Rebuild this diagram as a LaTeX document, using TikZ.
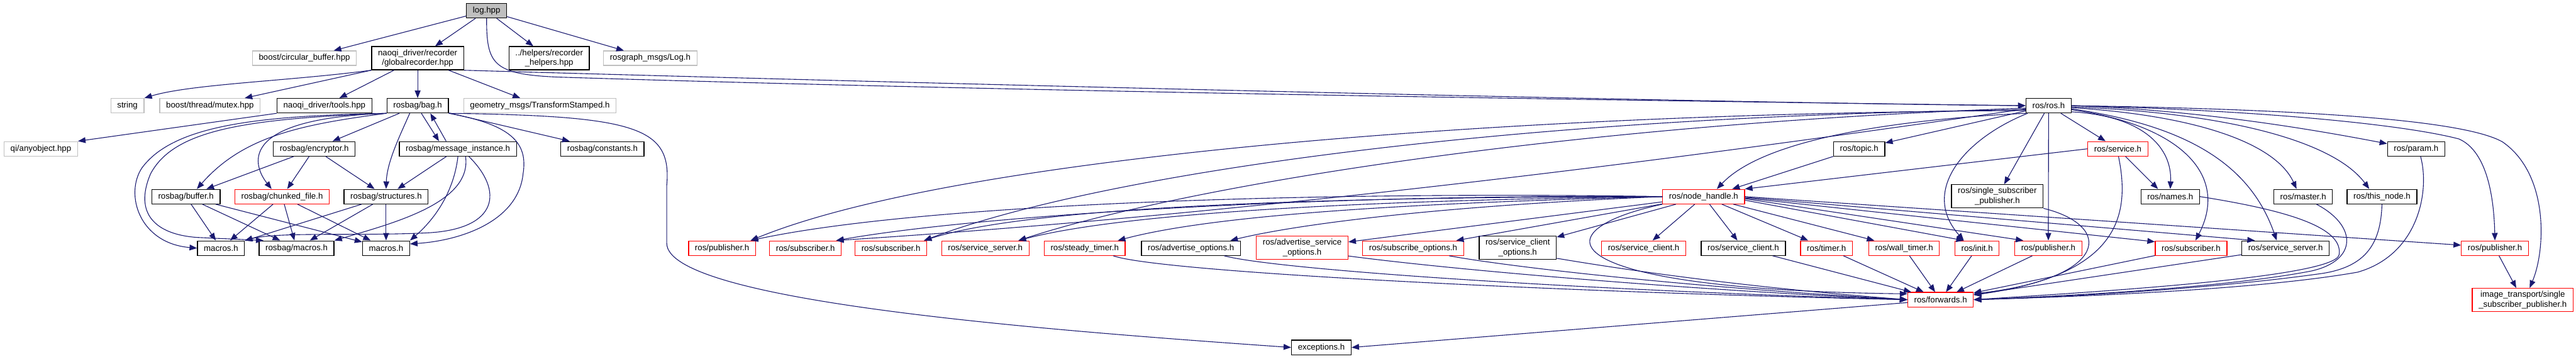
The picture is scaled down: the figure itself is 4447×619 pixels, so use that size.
\documentclass[tikz,border=0pt]{standalone}
\usepackage{fontspec}
\setmainfont{Liberation Sans}
\usetikzlibrary{arrows.meta}
\definecolor{edgeblue}{HTML}{191970}
\definecolor{extgray}{HTML}{BFBFBF}

\begin{document}
\begin{tikzpicture}[
    x=0.5pt, y=-0.5pt,
    >={Triangle[length=6.5pt, width=5pt]},
    hdr/.style={draw=black, line width=0.7pt, fill=white,
        font=\fontsize{7.2}{8.4}\selectfont, inner xsep=5.5pt, inner ysep=2.5pt,
        minimum height=12.5pt, align=center},
    redhdr/.style={hdr, draw=red},
    exthdr/.style={hdr, draw=extgray},
    mainhdr/.style={hdr, fill=extgray},
    dep/.style={->, draw=edgeblue, line width=0.6pt}
]
\useasboundingbox (0,0) rectangle (4447,619);

% ==================== NODES ====================
% Top
\node[mainhdr] (log) at (840,18.5) {log.hpp};

% Row 1
\node[exthdr] (circbuf) at (525.5,100.5) {boost/circular\_buffer.hpp};
\node[hdr] (recorder) at (721,100.5) {naoqi\_driver/recorder\\/globalrecorder.hpp};
\node[hdr] (helpers) at (948,100.5) {../helpers/recorder\\\_helpers.hpp};
\node[exthdr] (rosgraph) at (1122.5,100.5) {rosgraph\_msgs/Log.h};

% Row 2
\node[exthdr] (string) at (220,182.5) {string};
\node[exthdr] (mutex) at (362.5,182.5) {boost/thread/mutex.hpp};
\node[hdr] (tools) at (560,182.5) {naoqi\_driver/tools.hpp};
\node[hdr] (bag) at (721,182.5) {rosbag/bag.h};
\node[exthdr] (geom) at (932,182.5) {geometry\_msgs/TransformStamped.h};
\node[hdr] (ros) at (3536.5,182.5) {ros/ros.h};

% Row 3
\node[exthdr] (qi) at (70.5,257) {qi/anyobject.hpp};
\node[hdr] (encryptor) at (542.5,257) {rosbag/encryptor.h};
\node[hdr] (msginst) at (790.5,257) {rosbag/message\_instance.h};
\node[hdr] (constants) at (1040,257) {rosbag/constants.h};
\node[hdr] (topic) at (3209.5,257) {ros/topic.h};
\node[redhdr] (service) at (3656,257) {ros/service.h};
\node[hdr] (param) at (4171,257) {ros/param.h};

% Row 4
\node[hdr] (buffer) at (321,339.5) {rosbag/buffer.h};
\node[redhdr] (chunked) at (487,339.5) {rosbag/chunked\_file.h};
\node[hdr] (structures) at (666.5,339.5) {rosbag/structures.h};
\node[redhdr] (nh) at (2941,339.5) {ros/node\_handle.h};
\node[hdr] (ssp) at (3448,339) {ros/single\_subscriber\\\_publisher.h};
\node[hdr] (names) at (3746.5,339.5) {ros/names.h};
\node[hdr] (master) at (3976,339.5) {ros/master.h};
\node[hdr] (thisnode) at (4112,339.5) {ros/this\_node.h};

% Row 5
\node[hdr] (macrosA) at (381.5,428.5) {macros.h};
\node[hdr] (rbmacros) at (512,428.5) {rosbag/macros.h};
\node[hdr] (macrosB) at (666.5,428.5) {macros.h};
\node[redhdr] (pubA) at (1246.5,428.5) {ros/publisher.h};
\node[redhdr] (subA) at (1390.5,428.5) {ros/subscriber.h};
\node[redhdr] (subB) at (1538,428.5) {ros/subscriber.h};
\node[redhdr] (ssrvA) at (1701,428.5) {ros/service\_server.h};
\node[redhdr] (steady) at (1872.5,428.5) {ros/steady\_timer.h};
\node[hdr] (advopt) at (2056,428.5) {ros/advertise\_options.h};
\node[redhdr] (advsrv) at (2248,428) {ros/advertise\_service\\\_options.h};
\node[redhdr] (subopt) at (2439.5,428.5) {ros/subscribe\_options.h};
\node[hdr] (scopt) at (2620,428) {ros/service\_client\\\_options.h};
\node[redhdr] (sclientA) at (2837.5,428.5) {ros/service\_client.h};
\node[hdr] (sclientB) at (3009.5,428.5) {ros/service\_client.h};
\node[redhdr] (timer) at (3153,428.5) {ros/timer.h};
\node[redhdr] (walltimer) at (3287,428.5) {ros/wall\_timer.h};
\node[redhdr] (init) at (3413,428.5) {ros/init.h};
\node[redhdr] (pubB) at (3536,428.5) {ros/publisher.h};
\node[redhdr] (subC) at (3782.5,428.5) {ros/subscriber.h};
\node[hdr] (ssrvB) at (3945.5,428.5) {ros/service\_server.h};
\node[redhdr] (pubC) at (4307,428.5) {ros/publisher.h};

% Bottom rows
\node[redhdr] (forwards) at (3350,517.5) {ros/forwards.h};
\node[redhdr] (imgtr) at (4355,518) {image\_transport/single\\\_subscriber\_publisher.h};
\node[hdr] (exceptions) at (2281,600) {exceptions.h};

% ==================== LOG / RECORDER ====================
\draw[dep] (log) -- (circbuf);
\draw[dep] (log) -- (recorder);
\draw[dep] (log) -- (helpers);
\draw[dep] (log) -- (rosgraph);
\draw[dep] (log.south) .. controls (840,110) and (850,128) .. (960,133)
    .. controls (1800,160) and (3000,176) .. (ros.west);

\draw[dep] (recorder.south east) .. controls (1800,150) and (3000,178) .. (ros.west);
\draw[dep] (recorder.south west) .. controls (500,140) and (330,145) .. (string.north east);
\draw[dep] (recorder.south west) -- (mutex);
\draw[dep] (recorder) -- (tools);
\draw[dep] (recorder) -- (bag);
\draw[dep] (recorder) -- (geom);

\draw[dep] (tools.south west) -- (qi.north east);

% ==================== ROSBAG ====================
\draw[dep] (bag) -- (encryptor);
\draw[dep] (bag.-64) -- (msginst.158);
\draw[dep] (msginst.147) -- (bag.-31);
\draw[dep] (bag.-136) .. controls (690,235) and (668,280) .. (structures.north);
\draw[dep] (bag) -- (constants);
\draw[dep] (bag.south west) .. controls (520,215) and (420,235) .. (buffer.35);
\draw[dep] (bag.south west) .. controls (400,205) and (440,290) .. (chunked.144);
\draw[dep] (bag.south west) .. controls (450,200) and (300,215) .. (245,290)
    .. controls (215,335) and (240,420) .. (macrosA.west);
\draw[dep] (bag.south west) .. controls (420,205) and (300,225) .. (260,300)
    .. controls (230,370) and (270,405) .. (340,410) -- (rbmacros.167);
\draw[dep] (bag.south east) .. controls (880,215) and (912,245) .. (903,300)
    .. controls (895,380) and (800,415) .. (macrosB.10);
\draw[dep] (bag.south east) .. controls (1100,200) and (1160,220) .. (1151,320) -- (1151,420)
    .. controls (1151,520) and (1800,570) .. (exceptions.west);

% message instance
\draw[dep] (msginst) -- (structures);
\draw[dep] (msginst.south) .. controls (785,320) and (760,370) .. (macrosB.north east);
\draw[dep] (msginst.-45) .. controls (815,350) and (680,385) .. (rbmacros.north east);
\draw[dep] (msginst.-35) .. controls (870,330) and (860,395) .. (740,402)
    .. controls (620,408) and (480,400) .. (macrosA.north east);

% encryptor
\draw[dep] (encryptor) -- (buffer);
\draw[dep] (encryptor) -- (chunked);
\draw[dep] (encryptor) -- (structures);

% macros
\draw[dep] (buffer) -- (macrosA);
\draw[dep] (buffer) -- (rbmacros);
\draw[dep] (buffer) -- (macrosB);
\draw[dep] (chunked) -- (macrosA);
\draw[dep] (chunked) -- (rbmacros);
\draw[dep] (chunked) -- (macrosB);
\draw[dep] (structures) -- (macrosA);
\draw[dep] (structures) -- (rbmacros);
\draw[dep] (structures) -- (macrosB);

% ==================== ROS.H ====================
\draw[dep] (ros) -- (topic);
\draw[dep] (ros.south west) .. controls (3300,205) and (3050,235) .. (nh.30);
\draw[dep] (topic.south west) -- (nh.15);
\draw[dep] (service.west) -- (nh.north east);
\draw[dep] (ros) -- (ssp);
\draw[dep] (ros.-160) .. controls (3390,240) and (3315,330) .. (init.150);
\draw[dep] (ros) -- (pubB);
\draw[dep] (ros) -- (service);
\draw[dep] (ros.-15) .. controls (3700,200) and (3750,255) .. (names.north);
\draw[dep] (service) -- (names.148);
\draw[dep] (ros.-10) .. controls (3760,215) and (3850,300) .. (subC.60);
\draw[dep] (ros.-8) .. controls (3800,220) and (3890,300) .. (ssrvB.139);
\draw[dep] (ros.-5) .. controls (3800,200) and (3930,250) .. (master.131);
\draw[dep] (ros.-3) .. controls (3850,195) and (4030,245) .. (thisnode.149);
\draw[dep] (ros.east) .. controls (3800,190) and (4000,225) .. (param.170);
\draw[dep] (ros.east) .. controls (3900,190) and (4150,215) .. (4245,240)
    .. controls (4290,260) and (4305,330) .. (pubC.north);
\draw[dep] (ros.east) .. controls (3950,188) and (4250,205) .. (4320,245)
    .. controls (4400,300) and (4395,430) .. (imgtr.60);
\draw[dep] (pubC) -- (imgtr);

% long ones to the left
\draw[dep] (ros.-168) .. controls (2600,195) and (1650,270) .. (pubA.15);
\draw[dep] (ros.-172) .. controls (3100,245) and (2300,360) .. (subA.14);
\draw[dep] (ros.-170) .. controls (2600,200) and (1900,300) .. (subB.13);
\draw[dep] (ros.-174) .. controls (2700,215) and (2050,320) .. (ssrvA.13);

% ==================== NODE_HANDLE.H ====================
\draw[dep] (nh) -- (sclientA);
\draw[dep] (nh) -- (scopt);
\draw[dep] (nh) -- (subopt);
\draw[dep] (nh) -- (advsrv);
\draw[dep] (nh.west) .. controls (2500,355) and (2250,385) .. (advopt.11);
\draw[dep] (nh.west) .. controls (2450,350) and (2100,370) .. (steady.13);
\draw[dep] (nh.west) .. controls (2400,345) and (1950,365) .. (ssrvA.13);
\draw[dep] (nh.west) .. controls (2400,340) and (1800,350) .. (subB.13);
\draw[dep] (nh.west) .. controls (2300,335) and (1700,370) .. (subA.14);
\draw[dep] (nh.west) .. controls (2300,330) and (1600,350) .. (pubA.15);

\draw[dep] (nh) -- (sclientB);
\draw[dep] (nh) -- (timer);
\draw[dep] (nh) -- (walltimer);
\draw[dep] (nh.-5) -- (init.150);
\draw[dep] (nh.-3) -- (pubB.163);
\draw[dep] (nh.-2) -- (subC.170);
\draw[dep] (nh.-1) -- (ssrvB.166);
\draw[dep] (nh.east) -- (pubC.175);
\draw[dep] (nh.south west) .. controls (2650,400) and (2680,500) .. (forwards.170);

% ==================== FORWARDS.H ====================
\draw[dep] (steady.-15) .. controls (2000,470) and (2700,505) .. (forwards.west);
\draw[dep] (advopt.-13) .. controls (2200,465) and (2700,500) .. (forwards.west);
\draw[dep] (advsrv.-10) .. controls (2500,465) and (2900,500) .. (forwards.west);
\draw[dep] (subopt.-12) .. controls (2600,460) and (2900,495) .. (forwards.west);
\draw[dep] (scopt.-15) .. controls (2800,465) and (3000,495) .. (forwards.west);

\draw[dep] (sclientB) -- (forwards);
\draw[dep] (timer) -- (forwards);
\draw[dep] (walltimer) -- (forwards);
\draw[dep] (init) -- (forwards);
\draw[dep] (pubB) -- (forwards);
\draw[dep] (subC) -- (forwards);
\draw[dep] (ssrvB) -- (forwards);

\draw[dep] (ssp.south east) .. controls (3650,390) and (3640,480) .. (forwards.10);
\draw[dep] (service.-85) .. controls (3680,380) and (3650,475) .. (forwards.8);
\draw[dep] (names.east) .. controls (3960,365) and (4045,395) .. (4038,440)
    .. controls (4030,480) and (3600,505) .. (forwards.east);
\draw[dep] (master.-30) .. controls (4070,390) and (4070,450) .. (3990,468)
    .. controls (3850,495) and (3600,510) .. (forwards.east);
\draw[dep] (thisnode.south) .. controls (4110,420) and (4085,460) .. (4010,472)
    .. controls (3850,495) and (3600,512) .. (forwards.east);
\draw[dep] (param.-60) .. controls (4195,330) and (4175,440) .. (4070,470)
    .. controls (3900,500) and (3600,512) .. (forwards.east);

\draw[dep] (forwards.185) -- (exceptions.east);

\end{tikzpicture}
\end{document}
